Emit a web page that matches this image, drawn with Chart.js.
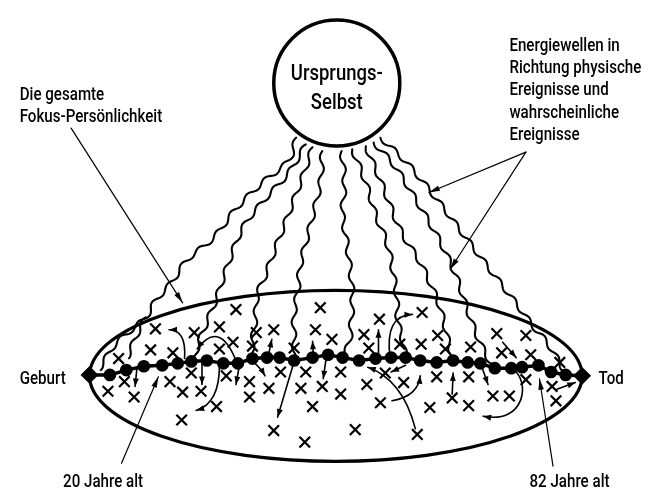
<!DOCTYPE html>
<html>
<head>
<meta charset="utf-8">
<script src="https://cdn.jsdelivr.net/npm/chart.js@4/dist/chart.umd.min.js"></script>
<style>
  html, body { margin: 0; padding: 0; background: #fff; }
  canvas { display: block; }
</style>
</head>
<body>
<canvas id="seth" width="660" height="503"></canvas>
<script>
// everything is in picture units: x 0..660 left to right, y 0..503 top to bottom

// the life line, Geburt -> Tod, with its dots
const lifeX = [82, 103, 120, 138, 157, 173, 187, 203, 220, 235, 250, 265, 278, 293, 312, 328, 343,
               360, 377, 393, 408, 423, 440, 457, 472, 485, 500, 517, 528, 545, 558, 573, 590];
const lifeY = [380, 380, 375, 371, 370, 368, 366, 365, 368, 368, 363, 362, 362, 365, 362, 359, 362,
               365, 363, 362, 362, 365, 367, 365, 367, 368, 373, 373, 372, 370, 377, 380, 381];

// the crosses (probable events)
const events = [
  [233,312],[320,310],[150,332],[190,336],[216,330],[254,336],[272,333],[315,333],[145,354],[168,357],
  [216,353],[230,346],[250,350],[293,352],[332,343],[112,363],[118,387],[101,397],[128,403],[165,387],
  [187,378],[178,398],[197,397],[223,381],[247,387],[247,403],[267,394],[279,377],[305,377],[300,394],
  [322,392],[312,413],[213,413],[177,427],[272,438],[304,450],
  [365,338],[370,352],[381,322],[425,315],[402,348],[424,348],[441,339],[449,353],[475,351],[502,337],
  [532,339],[507,357],[537,359],[567,367],[341,377],[341,400],[368,390],[387,378],[406,388],[382,409],
  [440,382],[433,414],[456,404],[473,382],[473,412],[498,402],[515,402],[532,385],[559,392],[563,407],
  [356,437],[420,442]
];

// Ursprungs-Selbst circle and the focus personality ellipse
const selfCenter = [337, 76];
const selfRadius = 65;
const fieldCenter = [336, 381];
const fieldRadii = [254, 89];

// energy waves from the circle down to the life line
const waves = [
  [[295,133],[287,157],[260,180],[233,207],[210,237],[183,260],[167,283],[150,303],[140,320],[123,335],[107,350],[92,374]],
  [[140,320],[130,340],[121,362]],
  [[305,140],[287,170],[263,197],[240,227],[223,270],[213,300],[203,325],[195,345],[190,366]],
  [[312,143],[303,170],[287,213],[273,250],[263,277],[255,297],[253,323],[250,345],[250,363]],
  [[322,147],[320,180],[310,223],[300,263],[297,290],[293,317],[293,340],[293,365]],
  [[342,147],[345,180],[343,213],[348,247],[353,293],[352,323],[350,345],[343,362]],
  [[353,145],[367,180],[377,213],[390,247],[398,293],[400,323],[405,345],[408,362]],
  [[367,142],[383,180],[403,230],[423,263],[440,300],[447,323],[452,345],[457,365]],
  [[375,138],[397,163],[420,200],[443,240],[460,277],[470,307],[480,335],[490,357],[498,372]],
  [[382,133],[410,160],[440,197],[467,233],[497,273],[520,303],[540,330],[555,348],[573,378]]
];

// small arrows between events and the life line
const arrows = [
  [[180,363],[182,333],[164,333]],
  [[131,372],[129,392]],
  [[233,365],[216,322],[193,353]],
  [[198,368],[198,390]],
  [[216,370],[216,410],[192,417]],
  [[237,368],[233,390]],
  [[266,362],[270,343]],
  [[249,365],[258,372],[263,381]],
  [[293,366],[276,424]],
  [[313,362],[312,345]],
  [[326,363],[323,384]],
  [[380,362],[380,333]],
  [[392,362],[386,318],[415,317]],
  [[418,436],[405,385],[369,372]],
  [[408,370],[393,377]],
  [[394,407],[421,402],[423,381]],
  [[456,400],[457,378]],
  [[486,370],[493,390]],
  [[518,374],[537,385],[532,432],[488,423]],
  [[508,346],[522,362]],
  [[564,395],[583,388]]
];

// thin label pointers, [from, to]
const pointers = [
  [[63,123],[178,305]],
  [[532,148],[432,190]],
  [[532,148],[454,270]],
  [[115,472],[153,382]],
  [[560,475],[546,384]]
];

// labels: text, x, y, align
const labelText = ['Die gesamte', 'Fokus-Persönlichkeit', 'Ursprungs-', 'Selbst',
  'Energiewellen in', 'Richtung physische', 'Ereignisse und', 'wahrscheinliche', 'Ereignisse',
  'Geburt', 'Tod', '20 Jahre alt', '82 Jahre alt'];
const labelX = [10, 10, 337, 337, 515, 515, 515, 515, 515, 10, 607, 96, 577];
const labelY = [94, 117, 73, 103, 43, 66, 89, 112, 135, 389, 389, 497, 497];
const labelAlign = ['left', 'left', 'center', 'center', 'left', 'left', 'left', 'left', 'left',
  'left', 'left', 'center', 'center'];

const FONT = 'Roboto, "DejaVu Sans", sans-serif';

function px(chart, p) {
  return [chart.scales.x.getPixelForValue(p[0]), chart.scales.y.getPixelForValue(p[1])];
}

// smooth the traced points (catmull-rom), then let the line wobble along it
function wavy(ctx, pts, amp, wave) {
  const dense = [];
  for (let i = 0; i < pts.length - 1; i++) {
    const p0 = pts[Math.max(i - 1, 0)], p1 = pts[i], p2 = pts[i + 1], p3 = pts[Math.min(i + 2, pts.length - 1)];
    const n = Math.max(2, Math.ceil(Math.hypot(p2[0] - p1[0], p2[1] - p1[1])));
    for (let k = 0; k < n; k++) {
      const t = k / n, t2 = t * t, t3 = t2 * t;
      const f = (a, b, c, d) => 0.5 * (2 * b + (-a + c) * t + (2 * a - 5 * b + 4 * c - d) * t2 + (-a + 3 * b - 3 * c + d) * t3);
      dense.push([f(p0[0], p1[0], p2[0], p3[0]), f(p0[1], p1[1], p2[1], p3[1])]);
    }
  }
  dense.push(pts[pts.length - 1]);
  ctx.beginPath();
  let s = 0;
  dense.forEach((p, i) => {
    const a = dense[Math.max(i - 1, 0)], b = dense[Math.min(i + 1, dense.length - 1)];
    const len = Math.hypot(b[0] - a[0], b[1] - a[1]) || 1;
    if (i > 0) s += Math.hypot(p[0] - dense[i - 1][0], p[1] - dense[i - 1][1]);
    const w = amp * Math.sin(s / wave * 2 * Math.PI);
    const x = p[0] - (b[1] - a[1]) / len * w, y = p[1] + (b[0] - a[0]) / len * w;
    if (i === 0) ctx.moveTo(x, y); else ctx.lineTo(x, y);
  });
  ctx.stroke();
}

function head(ctx, from, to, len, half) {
  const a = Math.atan2(to[1] - from[1], to[0] - from[0]);
  ctx.save();
  ctx.translate(to[0], to[1]);
  ctx.rotate(a);
  ctx.beginPath();
  ctx.moveTo(0, 0);
  ctx.lineTo(-len, -half);
  ctx.lineTo(-len, half);
  ctx.closePath();
  ctx.fill();
  ctx.restore();
}

const drawing = {
  id: 'drawing',
  beforeDatasetsDraw(chart) {
    const ctx = chart.ctx;
    const xs = chart.scales.x, ys = chart.scales.y;
    ctx.save();
    ctx.strokeStyle = '#000';
    ctx.fillStyle = '#000';
    ctx.lineCap = 'round';
    ctx.lineJoin = 'round';

    // waves
    ctx.lineWidth = 2.1;
    waves.forEach(w => wavy(ctx, w.map(p => px(chart, p)), 2.2, 24));

    // circle
    const c = px(chart, selfCenter);
    const r = xs.getPixelForValue(selfCenter[0] + selfRadius) - c[0];
    ctx.beginPath();
    ctx.arc(c[0], c[1], r, 0, Math.PI * 2);
    ctx.fillStyle = '#fff';
    ctx.fill();
    ctx.lineWidth = 3.5;
    ctx.stroke();
    ctx.fillStyle = '#000';

    // ellipse
    const e = px(chart, fieldCenter);
    const erx = xs.getPixelForValue(fieldCenter[0] + fieldRadii[0]) - e[0];
    const ery = ys.getPixelForValue(fieldCenter[1] + fieldRadii[1]) - e[1];
    ctx.beginPath();
    ctx.ellipse(e[0], e[1], erx, Math.abs(ery), 0, 0, Math.PI * 2);
    ctx.lineWidth = 3.2;
    ctx.stroke();

    // pointers
    ctx.lineWidth = 1.2;
    pointers.forEach(pr => {
      const a = px(chart, pr[0]), b = px(chart, pr[1]);
      ctx.beginPath();
      ctx.moveTo(a[0], a[1]);
      ctx.lineTo(b[0], b[1]);
      ctx.stroke();
      head(ctx, a, b, 11, 2.8);
    });
    ctx.restore();
  },
  afterDatasetsDraw(chart) {
    const ctx = chart.ctx;
    ctx.save();
    ctx.strokeStyle = '#000';
    ctx.fillStyle = '#000';
    ctx.lineWidth = 1.6;
    ctx.lineCap = 'round';
    arrows.forEach(ar => {
      const p = ar.map(q => px(chart, q));
      ctx.beginPath();
      ctx.moveTo(p[0][0], p[0][1]);
      if (p.length === 2) ctx.lineTo(p[1][0], p[1][1]);
      else if (p.length === 3) ctx.quadraticCurveTo(p[1][0], p[1][1], p[2][0], p[2][1]);
      else ctx.bezierCurveTo(p[1][0], p[1][1], p[2][0], p[2][1], p[3][0], p[3][1]);
      ctx.stroke();
      head(ctx, p[p.length - 2], p[p.length - 1], 8, 3);
    });

    // condensed lettering like the stencil text of the drawing
    ctx.textBaseline = 'alphabetic';
    labelText.forEach((t, i) => {
      const big = i === 2 || i === 3;
      ctx.font = '500 ' + (big ? '22px ' : '18px ') + FONT;
      ctx.textAlign = labelAlign[i];
      const p = px(chart, [labelX[i], labelY[i]]);
      ctx.save();
      ctx.translate(p[0], p[1]);
      ctx.scale(0.84, 1);
      ctx.fillText(t, 0, 0);
      ctx.restore();
    });
    ctx.restore();
  }
};

new Chart(document.getElementById('seth'), {
  type: 'scatter',
  data: {
    datasets: [
      {
        type: 'line',
        label: 'Leben',
        data: lifeX.map((x, i) => ({ x: x, y: lifeY[i] })),
        borderColor: '#000',
        borderWidth: 3.5,
        backgroundColor: '#000',
        pointBackgroundColor: '#000',
        pointBorderColor: '#000',
        pointRadius: lifeX.map((x, i) => (i === 0 || i === lifeX.length - 1) ? 6.5 : 4.6),
        pointStyle: lifeX.map((x, i) => (i === 0 || i === lifeX.length - 1) ? 'rectRot' : 'circle'),
        tension: 0
      },
      {
        label: 'Ereignisse',
        data: events.map(p => ({ x: p[0], y: p[1] })),
        pointStyle: 'crossRot',
        pointRadius: 7.5,
        borderColor: '#000',
        borderWidth: 2.2
      }
    ]
  },
  options: {
    responsive: false,
    animation: false,
    events: [],
    layout: { padding: 0 },
    plugins: { legend: { display: false }, tooltip: { enabled: false } },
    scales: {
      x: { type: 'linear', min: 0, max: 660, display: false },
      y: { type: 'linear', min: 0, max: 503, reverse: true, display: false }
    }
  },
  plugins: [drawing]
});
</script>
</body>
</html>
